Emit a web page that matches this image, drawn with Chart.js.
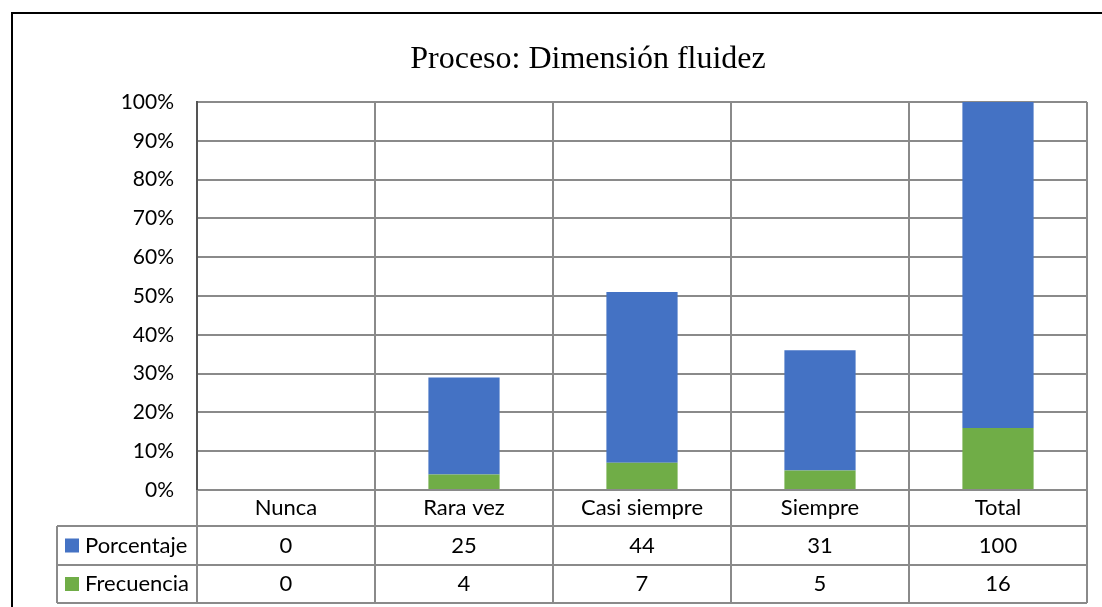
<!DOCTYPE html>
<html>
<head>
<meta charset="utf-8">
<script src="https://cdn.jsdelivr.net/npm/chart.js@4"></script>
<style>
html,body{margin:0;padding:0;background:#fff;}
#wrap{width:1102px;height:607px;position:relative;}
</style>
</head>
<body>
<div id="wrap"><canvas id="c" width="1102" height="607"></canvas></div>
<script>
const chartTitle = "Proceso: Dimensión fluidez";
const categories = ["Nunca", "Rara vez", "Casi siempre", "Siempre", "Total"];
const porcentaje = [0, 25, 44, 31, 100];
const frecuencia = [0, 4, 7, 5, 16];
const yTicks = [0, 10, 20, 30, 40, 50, 60, 70, 80, 90, 100];

const BLUE = "#4472C4";
const GREEN = "#70AD47";
const GRID = "#8a8a8a";
const FONT = "Lato";

const tablePlugin = {
  id: "tablePlugin",
  afterDraw(chart) {
    const ctx = chart.ctx;
    const xs = chart.scales.x;
    const ca = chart.chartArea;
    const rowTop = [ca.bottom, 526, 565];
    const rowBot = [526, 565, 603];
    const legLeft = 57;
    ctx.save();
    // outer frame
    ctx.strokeStyle = "#000";
    ctx.lineWidth = 2;
    ctx.beginPath();
    ctx.moveTo(12, 607);
    ctx.lineTo(12, 13);
    ctx.lineTo(1102, 13);
    ctx.stroke();

    // table lines
    ctx.strokeStyle = GRID;
    ctx.lineWidth = 2;
    ctx.beginPath();
    [526, 565, 603].forEach(y => { ctx.moveTo(legLeft, y); ctx.lineTo(ca.right, y); });
    ctx.moveTo(legLeft, 526); ctx.lineTo(legLeft, 603);
    const n = categories.length;
    const cw = (ca.right - ca.left) / n;
    for (let i = 0; i <= n; i++) {
      const x = ca.left + i * cw;
      ctx.moveTo(x, ca.bottom); ctx.lineTo(x, 603);
    }
    ctx.stroke();

    // texts
    ctx.fillStyle = "#000";
    ctx.font = "22px " + FONT;
    ctx.textAlign = "center";
    ctx.textBaseline = "alphabetic";
    const base = [515, 553, 591];
    categories.forEach((c, i) => {
      const x = xs.getPixelForValue(i);
      ctx.fillText(c, x, base[0]);
      ctx.fillText(String(porcentaje[i]), x, base[1]);
      ctx.fillText(String(frecuencia[i]), x, base[2]);
    });
    // legend keys
    const rows = [{label: "Porcentaje", color: BLUE}, {label: "Frecuencia", color: GREEN}];
    rows.forEach((r, k) => {
      const cy = (rowTop[k + 1] + rowBot[k + 1]) / 2;
      ctx.fillStyle = r.color;
      ctx.fillRect(65, cy - 7, 14, 14);
      ctx.fillStyle = "#000";
      ctx.textAlign = "left";
      ctx.fillText(r.label, 85, base[k + 1]);
    });
    // title
    ctx.font = "32px 'Liberation Serif'";
    ctx.textAlign = "center";
    ctx.fillText(chartTitle, 588, 68);
    ctx.restore();
  }
};

new Chart(document.getElementById("c"), {
  type: "bar",
  data: {
    labels: categories,
    datasets: [
      { label: "Frecuencia", data: frecuencia, backgroundColor: GREEN, borderWidth: 0,
        categoryPercentage: 1, barPercentage: 0.4 },
      { label: "Porcentaje", data: porcentaje, backgroundColor: BLUE, borderWidth: 0,
        categoryPercentage: 1, barPercentage: 0.4 }
    ]
  },
  options: {
    responsive: false,
    animation: false,
    layout: { padding: { top: 102, right: 15, left: 0, bottom: 0 } },
    plugins: {
      legend: { display: false },
      title: { display: false },
      tooltip: { enabled: false }
    },
    scales: {
      x: {
        stacked: true,
        offset: true,
        grid: { display: true, offset: true, color: GRID, lineWidth: 2, drawTicks: false },
        border: { display: true, color: GRID, width: 2 },
        ticks: { display: false },
        afterFit(s) { s.height = 117; }
      },
      y: {
        stacked: true,
        min: 0,
        max: 100,
        afterBuildTicks(s) { s.ticks = yTicks.map(v => ({ value: v })); },
        grid: { color: GRID, lineWidth: 2, drawTicks: false },
        border: { display: true, color: "#555", width: 2 },
        ticks: {
          padding: 23,
          color: "#000",
          font: { family: FONT, size: 21 },
          callback: v => v + "%"
        },
        afterFit(s) { s.width = 197; }
      }
    }
  },
  plugins: [tablePlugin]
});
</script>
</body>
</html>
